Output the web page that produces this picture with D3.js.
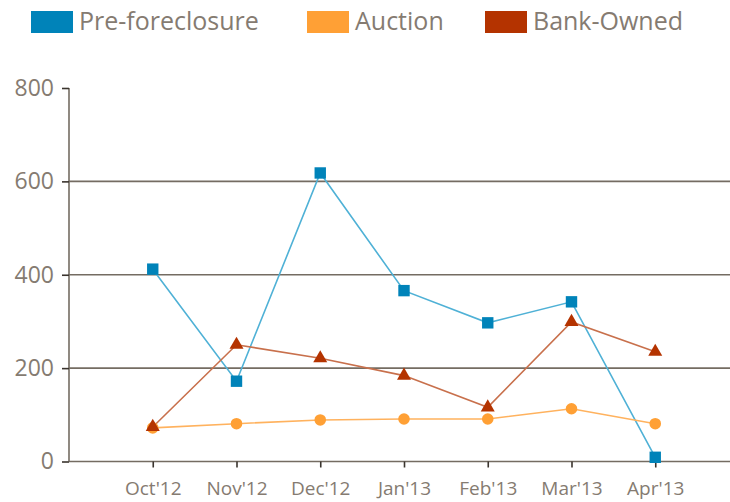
<!DOCTYPE html>
<html>
<head>
<meta charset="utf-8">
<script src="https://cdn.jsdelivr.net/npm/d3@7"></script>
<style>
  body { margin: 0; background: #fff; }
  text { font-family: "Open Sans", sans-serif; fill: #857b71; }
</style>
</head>
<body>
<div id="chart"></div>
<script>
const months = ["Oct'12", "Nov'12", "Dec'12", "Jan'13", "Feb'13", "Mar'13", "Apr'13"];
const preForeclosure = [412, 172, 618, 366, 297, 342, 9];
const auction = [72, 81, 89, 91, 91, 113, 81];
const bankOwned = [74, 250, 221, 184, 116, 299, 235];
const yTicks = [0, 200, 400, 600, 800];

const series = [
  { name: 'Pre-foreclosure', values: preForeclosure, color: '#0083b9', line: '#4fb1d6', shape: d3.symbolSquare, size: 130 },
  { name: 'Auction', values: auction, color: '#ffa035', line: '#ffb25e', shape: d3.symbolCircle, size: 105 },
  { name: 'Bank-Owned', values: bankOwned, color: '#b43300', line: '#c8704c', shape: d3.symbolTriangle, size: 85 }
];

const svg = d3.select('#chart')
  .append('svg')
    .attr('width', 730)
    .attr('height', 502);

const plotLeft = 69, plotRight = 739, plotTop = 88, plotBottom = 461.5;

const x = d3.scalePoint()
    .domain(months)
    .range([plotLeft, plotRight])
    .padding(1);

const y = d3.scaleLinear()
    .domain([0, 800])
    .range([plotBottom, plotTop]);

// grid lines
svg.append('g')
  .selectAll('line')
  .data(yTicks.filter(d => d > 0 && d < 800))
  .join('line')
    .attr('x1', plotLeft)
    .attr('x2', 730)
    .attr('y1', d => y(d))
    .attr('y2', d => y(d))
    .attr('stroke', '#746c62')
    .attr('stroke-width', 1.6);

// y axis
const yAxis = svg.append('g')
    .attr('transform', `translate(${plotLeft},0)`)
    .call(d3.axisLeft(y).tickValues(yTicks).tickSize(7).tickPadding(8));
yAxis.select('.domain').attr('stroke', '#746c62').attr('stroke-width', 1.6).attr('d', `M0,${plotTop}V${plotBottom}`);
yAxis.selectAll('.tick line').attr('stroke', '#3a342e').attr('stroke-width', 1.6);
yAxis.selectAll('.tick text')
    .attr('font-size', 23)
    .attr('font-family', '"Open Sans", sans-serif')
    .attr('fill', '#857b71');

// x axis
const xAxis = svg.append('g')
    .attr('transform', `translate(0,${plotBottom})`)
    .call(d3.axisBottom(x).tickSize(6).tickPadding(14));
xAxis.select('.domain').attr('stroke', '#746c62').attr('stroke-width', 1.6).attr('d', `M${plotLeft},0H730`);
xAxis.selectAll('.tick line').attr('stroke', '#3a342e').attr('stroke-width', 1.6);
xAxis.selectAll('.tick text')
    .attr('font-size', 19)
    .attr('font-family', '"Open Sans", sans-serif')
    .attr('fill', '#857b71');

const line = d3.line()
    .x((d, i) => x(months[i]))
    .y(d => y(d));

// lines
svg.append('g')
  .selectAll('path')
  .data(series)
  .join('path')
    .attr('fill', 'none')
    .attr('stroke', d => d.line)
    .attr('stroke-width', 1.6)
    .attr('d', d => line(d.values));

// markers
series.forEach(s => {
  svg.append('g')
    .selectAll('path')
    .data(s.values)
    .join('path')
      .attr('transform', (d, i) => `translate(${x(months[i])},${y(d)})`)
      .attr('d', d3.symbol().type(s.shape).size(s.size))
      .attr('fill', s.color);
});

// legend
const legendX = [31, 307, 485];
const legend = svg.append('g')
  .selectAll('g')
  .data(series)
  .join('g')
    .attr('transform', (d, i) => `translate(${legendX[i]},11)`);

legend.append('rect')
    .attr('width', 42)
    .attr('height', 22)
    .attr('fill', d => d.color);

legend.append('text')
    .attr('x', 48)
    .attr('y', 19)
    .attr('font-size', 25)
    .text(d => d.name);
</script>
</body>
</html>
